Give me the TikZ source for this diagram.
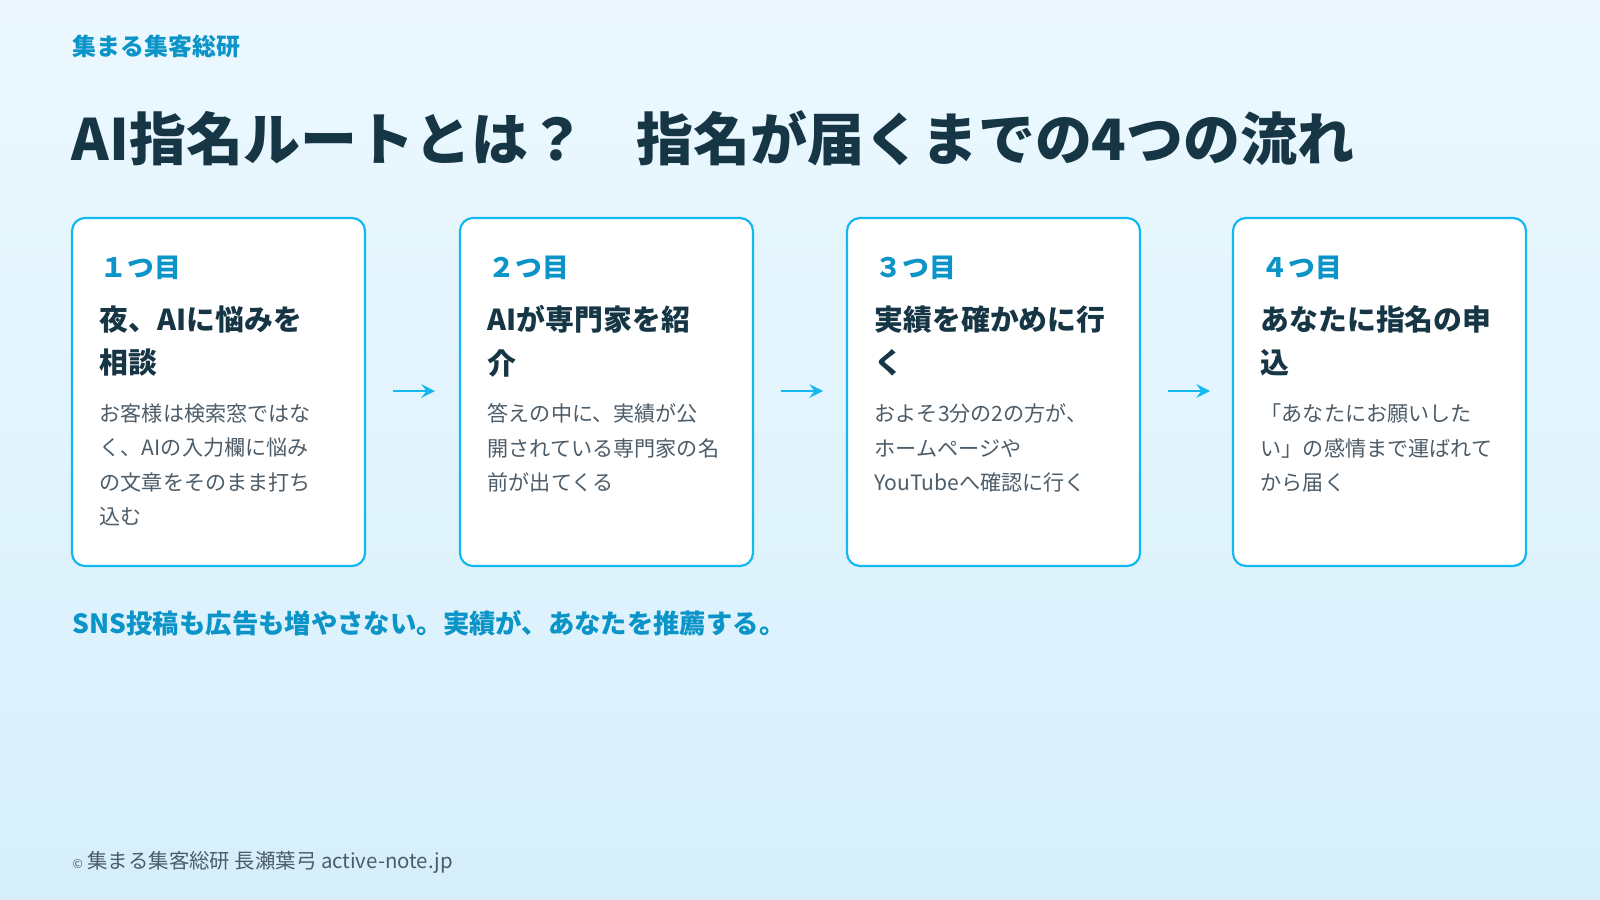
\documentclass[tikz,border=0pt]{standalone}
\usepackage{fontspec}
\setmainfont{Noto Sans CJK JP}
\begin{document}
\begin{tikzpicture}[x=0.01cm,y=-0.01cm,
  card/.style={draw=cardline,line width=2.2pt*0.2845,fill=white,rounded corners=0.13cm},
  lab/.style={anchor=west,inner sep=0,font=\fontsize{7.6pt}{9pt}\bfseries,text=blueT},
  ttl/.style={anchor=north west,inner sep=0,font=\fontsize{8.2pt}{12.3pt}\bfseries,text=navy,align=left},
  bod/.style={anchor=north west,inner sep=0,font=\fontsize{6pt}{9.8pt}\selectfont,text=grayT,align=left},
  arr/.style={->,>=stealth,draw=cardline,line width=0.7pt}]
\definecolor{cardline}{HTML}{14B8F0}
\definecolor{blueT}{HTML}{0A94C8}
\definecolor{navy}{HTML}{173645}
\definecolor{grayT}{HTML}{4C5C68}
\definecolor{bgA}{HTML}{ECF8FE}
\definecolor{bgB}{HTML}{D6EFFB}
\useasboundingbox (0,0) rectangle (1600,900);
\shade[top color=bgA,bottom color=bgB] (0,0) rectangle (1600,900);
\node[anchor=west,inner sep=0,font=\fontsize{6.8pt}{8pt}\bfseries,text=blueT] (hdr) at (72,46) {集まる集客総研};
\node[anchor=base west,inner sep=0,font=\fontsize{16.2pt}{19pt}\bfseries,text=navy] (title) at (71,160) {AI指名ルートとは？\hspace{0.9em}指名が届くまでの4つの流れ};
\foreach \i/\x in {1/72,2/460,3/847,4/1233}{
  \draw[card] (\x,218) rectangle ++(293,348);
}
\node[lab] (l1) at (100,268) {１つ目};
\node[lab] (l2) at (488,268) {２つ目};
\node[lab] (l3) at (875,268) {３つ目};
\node[lab] (l4) at (1261,268) {４つ目};
\node[ttl] (t1) at (99,305) {夜、AIに悩みを\\相談};
\node[ttl] (t2) at (487,305) {AIが専門家を紹\\介};
\node[ttl] (t3) at (874,305) {実績を確かめに行\\く};
\node[ttl] (t4) at (1260,305) {あなたに指名の申\\込};
\node[bod] (b1) at (99,403) {お客様は検索窓ではな\\く、AIの入力欄に悩み\\の文章をそのまま打ち\\込む};
\node[bod] (b2) at (487,403) {答えの中に、実績が公\\開されている専門家の名\\前が出てくる};
\node[bod] (b3) at (874,403) {およそ3分の2の方が、\\ホームページや\\YouTubeへ確認に行く};
\node[bod] (b4) at (1260,403) {「あなたにお願いした\\い」の感情まで運ばれて\\から届く};
\coordinate (a1s) at (393,391); \coordinate (a1e) at (435,391);
\coordinate (a2s) at (781,391); \coordinate (a2e) at (823,391);
\coordinate (a3s) at (1168,391); \coordinate (a3e) at (1210,391);
\draw[arr] (a1s) -- (a1e);
\draw[arr] (a2s) -- (a2e);
\draw[arr] (a3s) -- (a3e);
\node[anchor=west,inner sep=0,font=\fontsize{7.5pt}{9pt}\bfseries,text=blueT] (msg) at (72,623) {SNS投稿も広告も増やさない。実績が、あなたを推薦する。};
\node[anchor=west,inner sep=0,font=\fontsize{5.8pt}{7pt}\selectfont,text=grayT] (copy) at (72,862) {{\fontsize{3.5pt}{4pt}\selectfont ©} 集まる集客総研 長瀬葉弓 active-note.jp};
\end{tikzpicture}
\end{document}
